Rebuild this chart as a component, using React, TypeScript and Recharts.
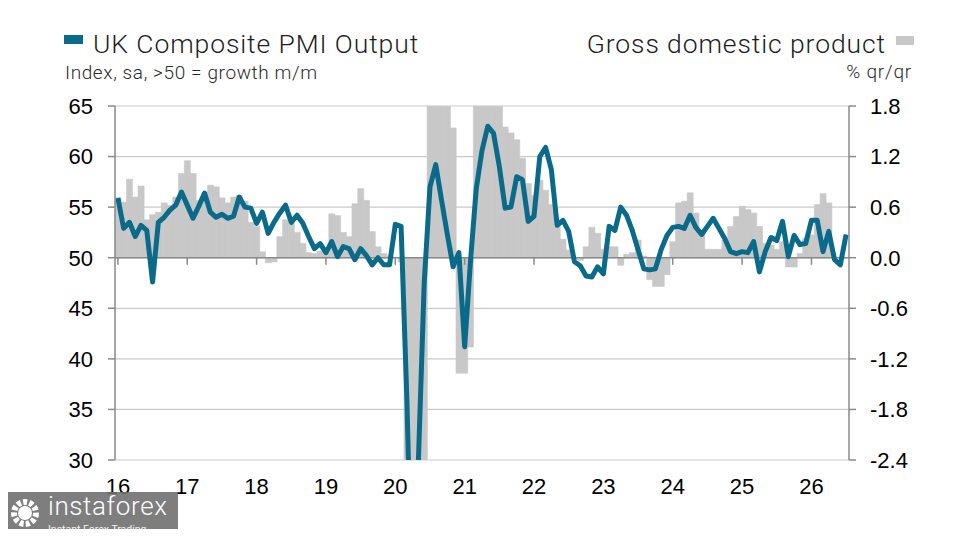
import React from "react";
import {
  Bar,
  CartesianGrid,
  ComposedChart,
  Line,
  ReferenceLine,
  XAxis,
  YAxis,
} from "recharts";

// UK Composite PMI Output, index, monthly
const PMI_2016 = [55.9, 52.9, 53.5, 52.1, 53.2, 52.7, 47.6, 53.5, 54.0, 54.7, 55.2, 56.5];
const PMI_2017 = [55.2, 53.9, 55.1, 56.4, 54.5, 54.0, 54.3, 53.9, 54.1, 56.0, 55.0, 54.9];
const PMI_2018 = [53.4, 54.5, 52.4, 53.5, 54.4, 55.2, 53.5, 54.2, 53.4, 52.1, 50.9, 51.4];
const PMI_2019 = [50.5, 51.6, 50.1, 51.1, 50.9, 49.8, 50.9, 50.2, 49.3, 50.0, 49.3, 49.3];
const PMI_2020 = [53.3, 53.1, 36.0, 13.8, 30.0, 47.5, 57.0, 59.2, 55.7, 52.3, 49.1, 50.5];
const PMI_2021 = [41.2, 49.6, 56.8, 60.6, 63.0, 62.3, 59.0, 54.9, 55.0, 58.0, 57.7, 53.6];
const PMI_2022 = [54.1, 60.0, 60.9, 58.7, 53.2, 53.7, 52.6, 49.6, 49.2, 48.2, 48.1, 49.1];
const PMI_2023 = [48.4, 53.1, 52.7, 55.0, 54.2, 52.7, 50.8, 48.9, 48.8, 48.9, 50.8, 52.2];
const PMI_2024 = [53.0, 53.1, 52.9, 54.2, 53.0, 52.3, 53.1, 53.9, 52.9, 51.9, 50.6, 50.4];
const PMI_2025 = [50.6, 50.5, 51.6, 48.6, 50.6, 52.0, 51.7, 53.6, 50.1, 52.2, 51.3, 51.4];
const PMI_2026 = [53.7, 53.7, 50.6, 52.6, 49.8, 49.3, 52.3];

// Gross domestic product, % qr/qr (3m/3m), monthly
const GDP_2016 = [0.71, 0.66, 0.93, 0.72, 0.85, 0.45, 0.51, 0.54, 0.65, 0.62, 0.72, 1.0];
const GDP_2017 = [1.15, 1.0, 0.68, 0.68, 0.86, 0.84, 0.71, 0.65, 0.72, 0.74, 0.67, 0.42];
const GDP_2018 = [0.37, 0.07, -0.06, -0.05, 0.25, 0.45, 0.41, 0.3, 0.17, 0.06, 0.05, 0.08];
const GDP_2019 = [0.1, 0.52, 0.5, 0.3, 0.25, 0.64, 0.82, 0.68, 0.31, 0.13, 0.05, 0.02];
const GDP_2020 = [0.0, -0.05, -2.9, -10.0, -19.2, -20.5, 2.4, 8.5, 16.0, 7.0, 1.54, -1.37];
const GDP_2021 = [-1.37, -1.06, 2.3, 3.9, 4.8, 5.6, 3.2, 1.55, 1.48, 1.4, 1.18, 0.88];
const GDP_2022 = [0.74, 0.92, 0.8, 0.63, 0.37, 0.22, 0.09, 0.0, -0.03, 0.13, 0.36, 0.29];
const GDP_2023 = [0.1, 0.13, 0.13, -0.09, 0.04, 0.06, 0.21, 0.02, -0.26, -0.34, -0.34, -0.2];
const GDP_2024 = [0.19, 0.65, 0.67, 0.77, 0.53, 0.31, 0.1, 0.1, 0.1, 0.21, 0.37, 0.49];
const GDP_2025 = [0.61, 0.57, 0.53, 0.37, 0.17, 0.15, 0.1, 0.19, -0.11, -0.11, 0.05, 0.23];
const GDP_2026 = [0.27, 0.63, 0.76, 0.65, null, null, null];

const YEARS = [2016, 2017, 2018, 2019, 2020, 2021, 2022, 2023, 2024, 2025, 2026];
const MONTHS = ["01", "02", "03", "04", "05", "06", "07", "08", "09", "10", "11", "12"];
const LEFT_TICKS = [30, 35, 40, 45, 50, 55, 60, 65];
const RIGHT_TICKS = [-2.4, -1.8, -1.2, -0.6, 0, 0.6, 1.2, 1.8];

const pmiOutput = [
  ...PMI_2016, ...PMI_2017, ...PMI_2018, ...PMI_2019, ...PMI_2020, ...PMI_2021,
  ...PMI_2022, ...PMI_2023, ...PMI_2024, ...PMI_2025, ...PMI_2026,
];
const gdpGrowth = [
  ...GDP_2016, ...GDP_2017, ...GDP_2018, ...GDP_2019, ...GDP_2020, ...GDP_2021,
  ...GDP_2022, ...GDP_2023, ...GDP_2024, ...GDP_2025, ...GDP_2026,
];
const months = YEARS.flatMap((y) => MONTHS.map((m) => `${y}-${m}`)).slice(0, pmiOutput.length);
const yearTicks = YEARS.map((y) => `${y}-01`);

const data = months.map((month, i) => ({
  month,
  pmi: pmiOutput[i],
  gdp: gdpGrowth[i],
}));

const TEAL = "#0a6a8a";
const GREY_BAR = "#c8c8c8";
const AXIS = "#8a8a8a";
const tickFont = { fill: "#000", fontSize: 22, fontFamily: "'Liberation Sans', Arial, sans-serif" };
const headFont = "Roboto, 'Noto Sans', sans-serif";

export default function App() {
  return (
    <div style={{ position: "relative", width: 948, height: 521 }}>
      <ComposedChart
        width={948}
        height={521}
        data={data}
        margin={{ top: 98, right: 47, bottom: 29, left: 47 }}
        barCategoryGap={0}
        barGap={0}
      >
        <CartesianGrid yAxisId="left" vertical={false} stroke="#cacaca" strokeWidth={1.2} />
        <XAxis
          dataKey="month"
          ticks={yearTicks}
          interval={0}
          tickFormatter={(v: string) => v.slice(2, 4)}
          axisLine={false}
          tickLine={false}
          tickSize={6}
          tickMargin={12}
          height={40}
          tick={tickFont}
        />
        <YAxis
          yAxisId="left"
          domain={[30, 65]}
          ticks={LEFT_TICKS}
          allowDataOverflow
          width={60}
          axisLine={{ stroke: AXIS, strokeWidth: 1.5 }}
          tickLine={{ stroke: AXIS, strokeWidth: 1.5 }}
          tickSize={7}
          tickMargin={15}
          tick={tickFont}
        />
        <YAxis
          yAxisId="right"
          orientation="right"
          domain={[-2.4, 1.8]}
          ticks={RIGHT_TICKS}
          allowDataOverflow
          width={60}
          axisLine={{ stroke: AXIS, strokeWidth: 1.5 }}
          tickLine={{ stroke: AXIS, strokeWidth: 1.5 }}
          tickSize={7}
          tickMargin={14}
          tick={tickFont}
          tickFormatter={(v: number) => v.toFixed(1)}
        />
        <Bar
          yAxisId="right"
          dataKey="gdp"
          fill={GREY_BAR}
          stroke={GREY_BAR}
          strokeWidth={0.6}
          isAnimationActive={false}
        />
        <ReferenceLine yAxisId="left" y={50} stroke={AXIS} strokeWidth={1.5} />
        {yearTicks.map((t) => (
          <ReferenceLine
            key={t}
            yAxisId="left"
            segment={[
              { x: t, y: 50 },
              { x: t, y: 49.3 },
            ]}
            stroke={AXIS}
            strokeWidth={1.5}
          />
        ))}
        <Line
          yAxisId="left"
          type="linear"
          dataKey="pmi"
          stroke={TEAL}
          strokeWidth={5}
          strokeLinejoin="round"
          dot={false}
          isAnimationActive={false}
        />
      </ComposedChart>

      <svg
        width={948}
        height={100}
        style={{ position: "absolute", left: 0, top: 0, pointerEvents: "none" }}
      >
        <rect x={56} y={27} width={19} height={9} fill={TEAL} />
        <text x={85} y={45} fontSize={26.5} fontWeight={300} letterSpacing={0.9} fill="#1e1e1e" fontFamily={headFont}>
          UK Composite PMI Output
        </text>
        <text x={57} y={71} fontSize={19} fontWeight={300} letterSpacing={0.6} fill="#2a2a2a" fontFamily={headFont}>
          Index, sa, &gt;50 = growth m/m
        </text>
        <text x={878} y={45} fontSize={26.5} fontWeight={300} letterSpacing={0.9} fill="#1e1e1e" fontFamily={headFont} textAnchor="end">
          Gross domestic product
        </text>
        <rect x={888} y={28} width={18} height={9} fill={GREY_BAR} />
        <text x={904} y={70} fontSize={19} fontWeight={300} letterSpacing={0.8} fill="#2a2a2a" fontFamily={headFont} textAnchor="end">
          % qr/qr
        </text>
      </svg>

      <div
        style={{
          position: "absolute",
          left: -8,
          top: 484,
          width: 178,
          height: 45,
          background: "rgba(112,112,112,0.9)",
        }}
      >
        <svg width={178} height={45}>
          <circle cx={25} cy={21} r={11} fill="none" stroke="#fff" strokeWidth={6} strokeDasharray="4 2.2" />
          <circle cx={25} cy={21} r={7} fill="#fff" />
          <text x={48} y={23} fontSize={26} fontWeight={300} letterSpacing={0.6} fill="#fff" fontFamily={headFont}>
            instaforex
          </text>
          <text x={48} y={41} fontSize={10.5} fill="#f2f2f2" fontFamily={headFont}>
            Instant Forex Trading
          </text>
        </svg>
      </div>
    </div>
  );
}
